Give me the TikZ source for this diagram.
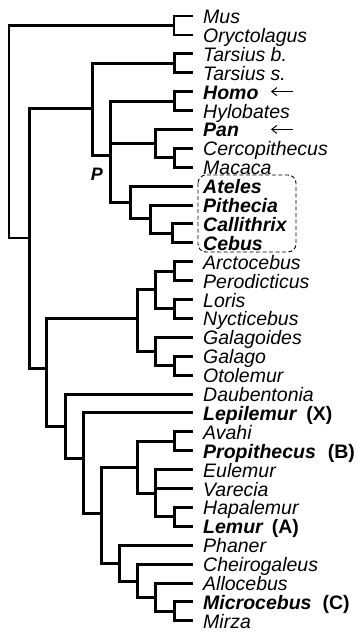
\documentclass[tikz,border=0pt]{standalone}
\usepackage{fontspec}
\setmainfont{Liberation Sans}
\usetikzlibrary{arrows.meta}
\newcommand{\lf}[3]{%
  \coordinate (t#1) at (193,{16+18.9*(#1-1)});
  \node[lab] (#2) at (203,{16+18.9*(#1-1)+7.5}) {#3};}
\begin{document}
\begin{tikzpicture}[x=1pt,y=-1pt,
  br/.style={line width=3pt, line join=miter, line cap=butt},
  rt/.style={line width=2.2pt, line join=miter, line cap=butt},
  lab/.style={anchor=base west, inner sep=0pt, font=\fontsize{19.5}{22}\selectfont\itshape},
  dashbox/.style={draw, line width=0.9pt, dash pattern=on 4pt off 2.5pt, rounded corners=8pt},
  arr/.style={line width=1pt, -{Straight Barb[length=5pt,width=8pt]}},
  plab/.style={inner sep=0pt, font=\fontsize{18}{18}\selectfont\bfseries\itshape}]
\useasboundingbox (0,0) rectangle (358,633);
% leaves
\lf{1}{Mus}{Mus}
\lf{2}{Oryctolagus}{Oryctolagus}
\lf{3}{Tarsiusb}{Tarsius b.}
\lf{4}{Tarsiuss}{Tarsius s.}
\lf{5}{Homo}{\bfseries Homo}
\lf{6}{Hylobates}{Hylobates}
\lf{7}{Pan}{\bfseries Pan}
\lf{8}{Cercopithecus}{Cercopithecus}
\lf{9}{Macaca}{Macaca}
\lf{10}{Ateles}{\bfseries Ateles}
\lf{11}{Pithecia}{\bfseries Pithecia}
\lf{12}{Callithrix}{\bfseries Callithrix}
\lf{13}{Cebus}{\bfseries Cebus}
\lf{14}{Arctocebus}{Arctocebus}
\lf{15}{Perodicticus}{Perodicticus}
\lf{16}{Loris}{Loris}
\lf{17}{Nycticebus}{Nycticebus}
\lf{18}{Galagoides}{Galagoides}
\lf{19}{Galago}{Galago}
\lf{20}{Otolemur}{Otolemur}
\lf{21}{Daubentonia}{Daubentonia}
\lf{22}{Lepilemur}{\bfseries Lepilemur\hspace{10pt}\upshape(X)}
\lf{23}{Avahi}{Avahi}
\lf{24}{Propithecus}{\bfseries Propithecus\hspace{12pt}\upshape(B)}
\lf{25}{Eulemur}{Eulemur}
\lf{26}{Varecia}{Varecia}
\lf{27}{Hapalemur}{Hapalemur}
\lf{28}{Lemur}{\bfseries Lemur\hspace{9pt}\upshape(A)}
\lf{29}{Phaner}{Phaner}
\lf{30}{Cheirogaleus}{Cheirogaleus}
\lf{31}{Allocebus}{Allocebus}
\lf{32}{Microcebus}{\bfseries Microcebus\hspace{11pt}\upshape(C)}
\lf{33}{Mirza}{Mirza}
% internal nodes
\coordinate (R) at (9,131);
\coordinate (A) at (174,25.45);
\coordinate (B) at (29,238);
\coordinate (C) at (92,108);
\coordinate (Ts) at (174,63.25);
\coordinate (Pn) at (110,155);
\coordinate (HH) at (174,101.05);
\coordinate (PG) at (155,143);
\coordinate (CM) at (174,157.75);
\coordinate (NW) at (130,202);
\coordinate (NW2) at (150,218);
\coordinate (CC) at (172,233.35);
\coordinate (D) at (46,368);
\coordinate (Lo) at (137,318);
\coordinate (Lr) at (155,289);
\coordinate (AP) at (174,271.15);
\coordinate (LN) at (174,308.95);
\coordinate (Gg) at (155,351);
\coordinate (GO) at (174,365.65);
\coordinate (St) at (65,426);
\coordinate (S2) at (83,458);
\coordinate (S3) at (101,513);
\coordinate (S4) at (137,467);
\coordinate (AvP) at (174,441.25);
\coordinate (Le) at (155,493);
\coordinate (HL) at (174,516.85);
\coordinate (Ch) at (119,563);
\coordinate (Ch2) at (137,581);
\coordinate (Ch3) at (155,597);
\coordinate (MM) at (174,611.35);
% root part (thin)
\draw[rt] (R) |- (A);
\draw[rt] (R) |- (B);
\draw[rt] (A) |- (t1);
\draw[rt] (A) |- (t2);
% ingroup
\draw[br] (B) |- (C);
\draw[br] (B) |- (D);
\draw[br] (C) |- (Ts);
\draw[br] (C) |- (Pn);
\draw[br] (Ts) |- (t3);
\draw[br] (Ts) |- (t4);
\draw[br] (Pn) |- (HH);
\draw[br] (Pn) |- (PG);
\draw[br] (Pn) |- (NW);
\draw[br] (HH) |- (t5);
\draw[br] (HH) |- (t6);
\draw[br] (PG) |- (t7);
\draw[br] (PG) |- (CM);
\draw[br] (CM) |- (t8);
\draw[br] (CM) |- (t9);
\draw[br] (NW) |- (t10);
\draw[br] (NW) |- (NW2);
\draw[br] (NW2) |- (t11);
\draw[br] (NW2) |- (CC);
\draw[br] (CC) |- (t12);
\draw[br] (CC) |- (t13);
\draw[br] (D) |- (Lo);
\draw[br] (D) |- (St);
\draw[br] (Lo) |- (Lr);
\draw[br] (Lo) |- (Gg);
\draw[br] (Lr) |- (AP);
\draw[br] (Lr) |- (LN);
\draw[br] (AP) |- (t14);
\draw[br] (AP) |- (t15);
\draw[br] (LN) |- (t16);
\draw[br] (LN) |- (t17);
\draw[br] (Gg) |- (t18);
\draw[br] (Gg) |- (GO);
\draw[br] (GO) |- (t19);
\draw[br] (GO) |- (t20);
\draw[br] (St) |- (t21);
\draw[br] (St) |- (S2);
\draw[br] (S2) |- (t22);
\draw[br] (S2) |- (S3);
\draw[br] (S3) |- (S4);
\draw[br] (S3) |- (Ch);
\draw[br] (S4) |- (AvP);
\draw[br] (S4) |- (Le);
\draw[br] (AvP) |- (t23);
\draw[br] (AvP) |- (t24);
\draw[br] (Le) |- (t25);
\draw[br] (Le) |- (t26);
\draw[br] (Le) |- (HL);
\draw[br] (HL) |- (t27);
\draw[br] (HL) |- (t28);
\draw[br] (Ch) |- (t29);
\draw[br] (Ch) |- (Ch2);
\draw[br] (Ch2) |- (t30);
\draw[br] (Ch2) |- (Ch3);
\draw[br] (Ch3) |- (t31);
\draw[br] (Ch3) |- (MM);
\draw[br] (MM) |- (t32);
\draw[br] (MM) |- (t33);
% P label
\node[plab] (P) at (97,174.5) {P};
% dashed box
\coordinate (bx1) at (198,175);
\coordinate (bx2) at (296,252);
\draw[dashbox] (bx1) rectangle (bx2);
% arrows
\coordinate (ha1) at (293,91.6);
\coordinate (ha2) at (271,91.6);
\coordinate (pa1) at (293,129.4);
\coordinate (pa2) at (271,129.4);
\draw[arr] (ha1) -- (ha2);
\draw[arr] (pa1) -- (pa2);
\end{tikzpicture}
\end{document}
